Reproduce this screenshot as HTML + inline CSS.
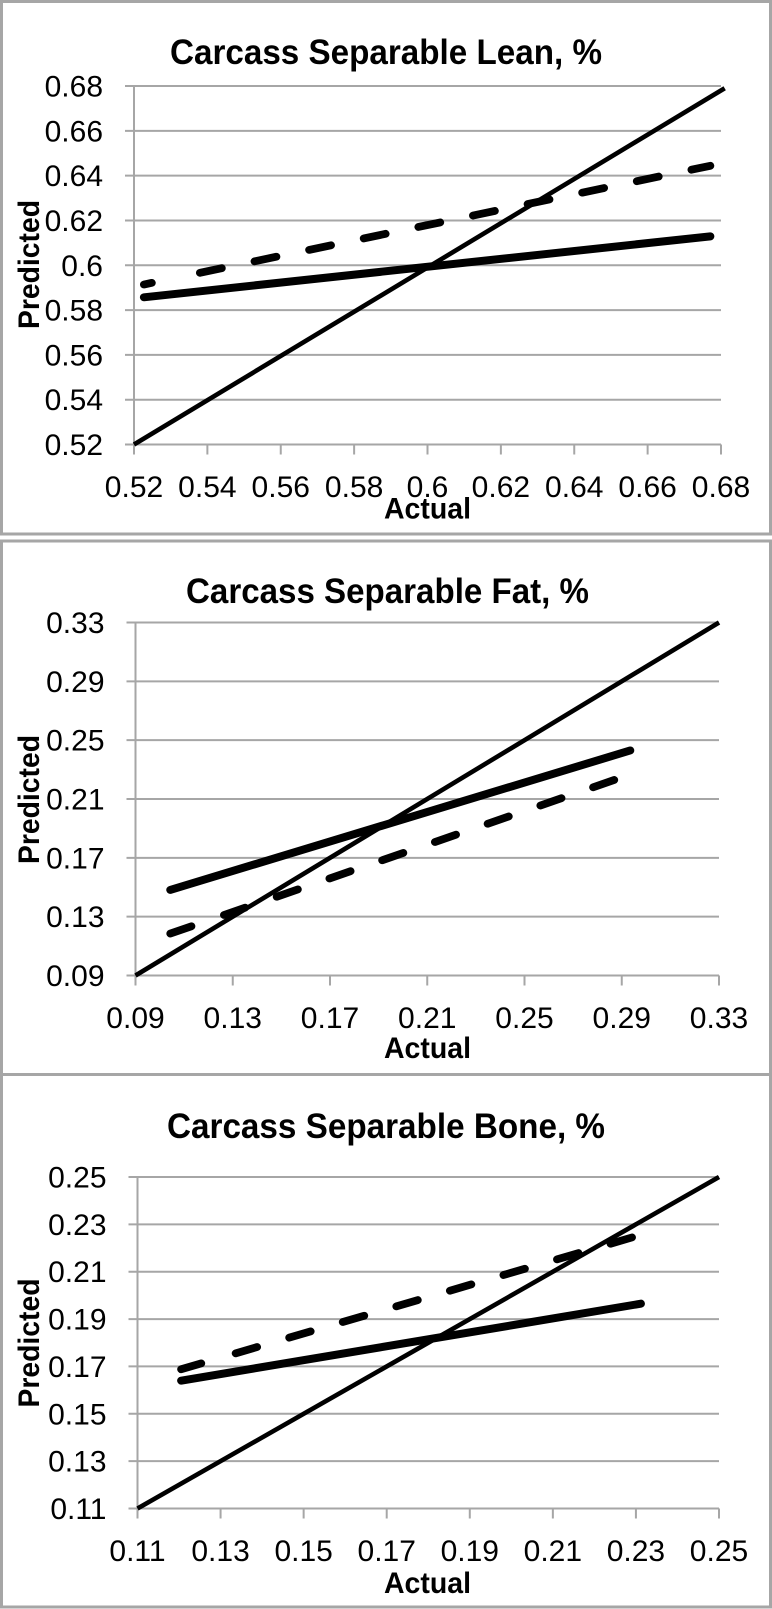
<!DOCTYPE html>
<html>
<head>
<meta charset="utf-8">
<title>Carcass Separable Predicted vs Actual</title>
<style>
html,body{margin:0;padding:0;background:#fff;width:772px;height:1609px;overflow:hidden}
svg{display:block}
text{font-family:"Liberation Sans",sans-serif;fill:#000}
.tick{font-size:30px}
.ttl{font-size:35px;font-weight:bold}
.axt{font-size:29.5px;font-weight:bold}
</style>
</head>
<body>
<svg id="figure" xmlns="http://www.w3.org/2000/svg" width="772" height="1609" viewBox="0 0 772 1609"></svg>
<script>
// Lean chart data
const leanTicks = [0.52, 0.54, 0.56, 0.58, 0.6, 0.62, 0.64, 0.66, 0.68];
const leanIdentityActual = [0.52, 0.681];
const leanIdentityPredicted = [0.52, 0.679];
const leanSolidActual = [0.5227, 0.6771];
const leanSolidPredicted = [0.5857, 0.6129];
const leanDashedActual = [0.5227, 0.6771];
const leanDashedPredicted = [0.5914, 0.6444];

// Fat chart data
const fatTicks = [0.09, 0.13, 0.17, 0.21, 0.25, 0.29, 0.33];
const fatIdentityActual = [0.09, 0.33];
const fatIdentityPredicted = [0.09, 0.33];
const fatSolidActual = [0.1043, 0.2935];
const fatSolidPredicted = [0.1482, 0.2430];
const fatDashedActual = [0.1043, 0.2870];
const fatDashedPredicted = [0.1185, 0.2230];

// Bone chart data
const boneTicks = [0.11, 0.13, 0.15, 0.17, 0.19, 0.21, 0.23, 0.25];
const boneIdentityActual = [0.11, 0.25];
const boneIdentityPredicted = [0.11, 0.25];
const boneSolidActual = [0.1205, 0.2312];
const boneSolidPredicted = [0.164, 0.1965];
const boneDashedActual = [0.1205, 0.2295];
const boneDashedPredicted = [0.1688, 0.2247];

const NS = 'http://www.w3.org/2000/svg';
const GRID = '#a6a6a6';
const root = document.getElementById('figure');

function make(parent, tag, attrs, label) {
  const el = document.createElementNS(NS, tag);
  for (const k in attrs) el.setAttribute(k, attrs[k]);
  el.textContent = label === undefined ? '' : label;
  parent.appendChild(el);
  return el;
}

function dashPattern(firstDash, firstGap) {
  const parts = [firstDash, firstGap];
  for (let i = 0; i < 16; i++) parts.push(22.4, 33.4);
  return parts.join(' ');
}

function drawChart(cfg) {
  const g = make(root, 'g', {});
  
  

  const frame = make(g, 'rect', {x: 1.5, y: cfg.top, width: 769, height: cfg.bottom - cfg.top, fill: '#fff', stroke: GRID, 'stroke-width': 3});
  
  

  const xDomain = [cfg.ticks[0], cfg.ticks[cfg.ticks.length - 1]];
  const xScale = v => cfg.left + (v - xDomain[0]) / (xDomain[1] - xDomain[0]) * (cfg.right - cfg.left);
  const yScale = v => cfg.yBase - (v - xDomain[0]) / (xDomain[1] - xDomain[0]) * (cfg.yBase - cfg.yTop);

  cfg.ticks.forEach(t => {
    const gy = yScale(t);
    const gridline = make(g, 'line', {x1: cfg.left - 9, x2: cfg.right, y1: gy, y2: gy, stroke: GRID, 'stroke-width': 2});
    
    

    const yLabel = make(g, 'text', {class: 'tick', x: cfg.left - 31, y: gy + 10.5, 'text-anchor': 'end'}, String(t));
    
    

    const gx = xScale(t);
    const xTick = make(g, 'line', {x1: gx, x2: gx, y1: cfg.yBase, y2: cfg.yBase + 10, stroke: GRID, 'stroke-width': 2});
    
    

    const xLabel = make(g, 'text', {class: 'tick', x: gx, y: cfg.xLabelY, 'text-anchor': 'middle'}, String(t));
    
    
  });

  const yAxis = make(g, 'line', {x1: cfg.left, x2: cfg.left, y1: cfg.yTop, y2: cfg.yBase, stroke: GRID, 'stroke-width': 2});
  
  

  const identity = make(g, 'line', {
    x1: xScale(cfg.identityX[0]), x2: xScale(cfg.identityX[1]),
    y1: yScale(cfg.identityY[0]), y2: yScale(cfg.identityY[1]),
    stroke: '#000', 'stroke-width': 4.6
  });
  
  

  const solid = make(g, 'line', {
    x1: xScale(cfg.solidX[0]), x2: xScale(cfg.solidX[1]),
    y1: yScale(cfg.solidY[0]), y2: yScale(cfg.solidY[1]),
    stroke: '#000', 'stroke-width': 8, 'stroke-linecap': 'round'
  });
  
  

  const dashed = make(g, 'line', {
    x1: xScale(cfg.dashedX[0]), x2: xScale(cfg.dashedX[1]),
    y1: yScale(cfg.dashedY[0]), y2: yScale(cfg.dashedY[1]),
    stroke: '#000', 'stroke-width': 7.8, 'stroke-linecap': 'round',
    'stroke-dasharray': dashPattern(cfg.firstDash, cfg.firstGap)
  });
  
  

  const title = make(g, 'text', {class: 'ttl', x: cfg.titleX, y: cfg.titleY, 'text-anchor': 'middle', textLength: cfg.titleW, lengthAdjust: 'spacingAndGlyphs'}, cfg.title);
  
  

  const xTitle = make(g, 'text', {class: 'axt', x: 427.5, y: cfg.actualY, 'text-anchor': 'middle', textLength: 87, lengthAdjust: 'spacingAndGlyphs'}, 'Actual');
  
  

  const yTitle = make(g, 'text', {class: 'axt', x: 0, y: 0, 'text-anchor': 'middle', textLength: 129, lengthAdjust: 'spacingAndGlyphs', transform: 'translate(39 ' + cfg.predictedY + ') rotate(-90)'}, 'Predicted');
  
  
}

drawChart({
  key: 'lean', title: 'Carcass Separable Lean, %', ticks: leanTicks,
  identityX: leanIdentityActual, identityY: leanIdentityPredicted,
  solidX: leanSolidActual, solidY: leanSolidPredicted,
  dashedX: leanDashedActual, dashedY: leanDashedPredicted,
  top: 1.5, bottom: 534, left: 134, right: 721, yTop: 86, yBase: 444.5,
  xLabelY: 497, titleX: 386, titleY: 64, titleW: 432, actualY: 518.5, predictedY: 264.5, firstDash: 8.1, firstGap: 49.1
});
drawChart({
  key: 'fat', title: 'Carcass Separable Fat, %', ticks: fatTicks,
  identityX: fatIdentityActual, identityY: fatIdentityPredicted,
  solidX: fatSolidActual, solidY: fatSolidPredicted,
  dashedX: fatDashedActual, dashedY: fatDashedPredicted,
  top: 541, bottom: 1074.5, left: 135.5, right: 719, yTop: 622.5, yBase: 975.5,
  xLabelY: 1028, titleX: 387.5, titleY: 603, titleW: 403, actualY: 1058, predictedY: 799.5, firstDash: 22.4, firstGap: 34.4
});
drawChart({
  key: 'bone', title: 'Carcass Separable Bone, %', ticks: boneTicks,
  identityX: boneIdentityActual, identityY: boneIdentityPredicted,
  solidX: boneSolidActual, solidY: boneSolidPredicted,
  dashedX: boneDashedActual, dashedY: boneDashedPredicted,
  top: 1074.5, bottom: 1607, left: 137.5, right: 719, yTop: 1177, yBase: 1508.5,
  xLabelY: 1561, titleX: 386, titleY: 1138, titleW: 438, actualY: 1593, predictedY: 1343, firstDash: 21, firstGap: 35.8
});
</script>
</body>
</html>
